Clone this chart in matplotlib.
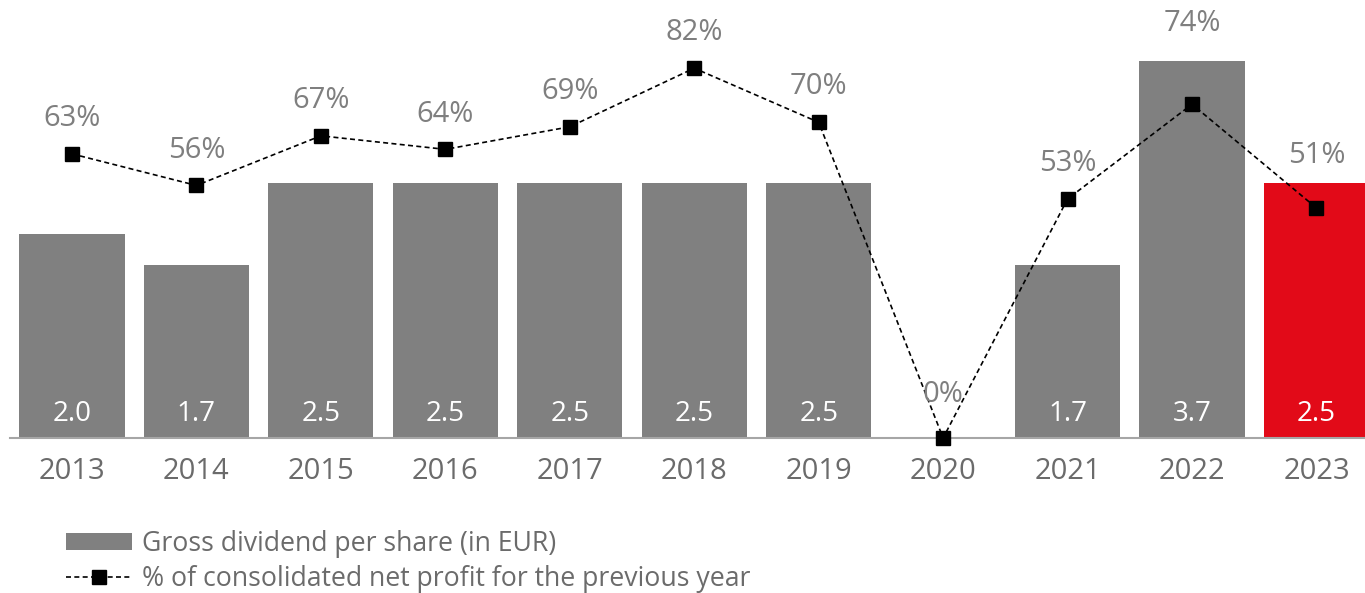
import matplotlib
matplotlib.use("Agg")
import matplotlib.pyplot as plt
from matplotlib.patches import Patch
from matplotlib.lines import Line2D
import numpy as np

years = ["2013", "2014", "2015", "2016", "2017", "2018", "2019", "2020", "2021", "2022", "2023"]
dividend = [2.0, 1.7, 2.5, 2.5, 2.5, 2.5, 2.5, 0.0, 1.7, 3.7, 2.5]
dividend_labels = ["2.0", "1.7", "2.5", "2.5", "2.5", "2.5", "2.5", "", "1.7", "3.7", "2.5"]
payout = [63, 56, 67, 64, 69, 82, 70, 0, 53, 74, 51]

plt.rcParams["font.family"] = ["Open Sans", "DejaVu Sans"]

GREY = "#808080"
RED = "#e20a18"
TXT = "#6b6b6b"

fig = plt.figure(figsize=(13.65, 5.93), dpi=100)
ax = fig.add_axes([10 / 1365, 155 / 593, 1355 / 1365, 438 / 593])
x = np.arange(len(years))
colors = [GREY] * (len(years) - 1) + [RED]
ax.bar(x, dividend, width=0.845, color=colors, zorder=2)
ax.set_xlim(-0.498, 10.39)
ax.set_ylim(0, 438 / 102)

for xi, lab in zip(x, dividend_labels):
    if lab:
        ax.text(xi, 0.24, lab, ha="center", va="center", color="white", fontsize=20)

for s in ["top", "right", "left"]:
    ax.spines[s].set_visible(False)
ax.spines["bottom"].set_color("#a6a6a6")
ax.spines["bottom"].set_linewidth(1.5)
ax.set_yticks([])
ax.set_xticks(x)
ax.set_xticklabels(years, fontsize=21, color=TXT)
ax.tick_params(axis="x", length=0, pad=14)

# payout ratio on a second scale
ax2 = ax.twinx()
ax2.set_ylim(0, 438 / 4.51)
ax2.axis("off")
ax2.plot(x, payout, color="black", linestyle=(0, (3, 2)), linewidth=1.2,
         marker="s", markersize=10, zorder=3, clip_on=False)
offsets = [35, 35, 35, 35, 35, 36, 36, 44, 35, 81, 52]
for xi, p, off in zip(x, payout, offsets):
    ax2.annotate(f"{p}%", (xi, p), xytext=(0, off * 0.72), textcoords="offset points",
                 ha="center", va="center", fontsize=21, color="#7f7f7f")

handles = [Patch(facecolor=GREY, edgecolor="none"),
           Line2D([], [], color="black", linestyle=(0, (3, 2)), linewidth=1.2,
                  marker="s", markersize=10)]
leg = fig.legend(handles, ["Gross dividend per share (in EUR)",
                           "% of consolidated net profit for the previous year"],
                 loc="upper left", bbox_to_anchor=(66 / 1365, 1 - 530 / 593),
                 frameon=False, fontsize=19.2, handlelength=2.49, handleheight=0.62,
                 handletextpad=0.36, labelspacing=0.28, borderaxespad=0, borderpad=0)
for t in leg.get_texts():
    t.set_color(TXT)

fig.savefig("out.png", dpi=100)
